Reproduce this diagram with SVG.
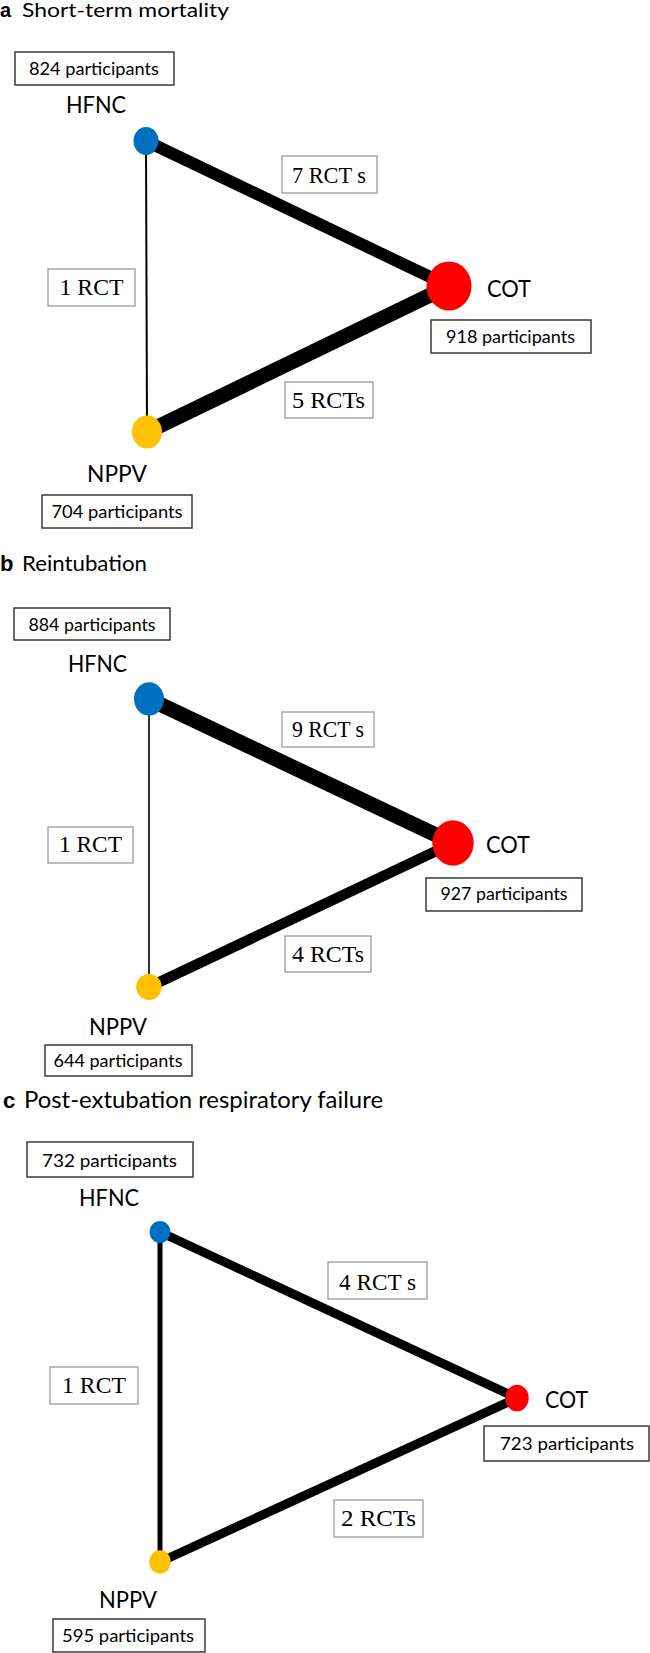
<svg xmlns="http://www.w3.org/2000/svg" width="650" height="1653" viewBox="0 0 650 1653">
<style>
.bg{fill:#fff}
.sans{font-family:Lato,"Open Sans","Liberation Sans",sans-serif;fill:#000}
.let{font-family:"Liberation Sans",Arial,sans-serif;font-weight:bold;fill:#000}
.title{font-size:19px}
.lab{font-size:23px}
.part{font-size:17px}
.ser{font-family:"Liberation Serif","Times New Roman",serif;font-size:23px;fill:#000}
.pbox{fill:#fff;stroke:#3a3a3a;stroke-width:1.5}
.ebox{fill:#fff;stroke:#9a9a9a;stroke-width:1.3}
.edge{stroke:#000;fill:none;stroke-linecap:butt}
.hfnc{fill:#0070C0}
.nppv{fill:#FFC000}
.cot{fill:#FF0000}
</style>
<rect class="bg" x="0" y="0" width="650" height="1653"/>

<!-- Panel a -->
<g id="panel-a">
  <g id="a-title">
    <text class="let" x="0" y="17" font-size="20">a</text>
    <text class="sans" x="22" y="17" font-size="18.5" textLength="207" lengthAdjust="spacingAndGlyphs">Short-term mortality</text>
  </g>
  <g id="a-connectors">
    <line class="edge" x1="146" y1="141" x2="147" y2="432" stroke-width="2"/>
    <line class="edge" x1="146" y1="141" x2="449" y2="286" stroke-width="12"/>
    <line class="edge" x1="147" y1="432" x2="449" y2="286" stroke-width="15"/>
    <rect class="ebox" x="48" y="269" width="87" height="37"/>
    <text class="ser" x="91.5" y="295" text-anchor="middle" textLength="64" lengthAdjust="spacingAndGlyphs">1 RCT</text>
    <rect class="ebox" x="282" y="156" width="95" height="37"/>
    <text class="ser" x="329" y="183" text-anchor="middle" textLength="74" lengthAdjust="spacingAndGlyphs">7 RCT s</text>
    <rect class="ebox" x="285" y="382" width="88" height="36"/>
    <text class="ser" x="328.5" y="408" text-anchor="middle" textLength="73" lengthAdjust="spacingAndGlyphs">5 RCTs</text>
  </g>
  <g id="a-HFNC">
    <rect class="pbox" x="15" y="52" width="159" height="33"/>
    <text class="sans part" x="94" y="75" text-anchor="middle" textLength="130" lengthAdjust="spacingAndGlyphs">824 participants</text>
    <text class="sans lab" x="66" y="113" textLength="60" lengthAdjust="spacingAndGlyphs">HFNC</text>
    <ellipse class="hfnc" cx="146" cy="141" rx="12.5" ry="14"/>
  </g>
  <g id="a-NPPV">
    <ellipse class="nppv" cx="147" cy="432" rx="15" ry="16.5"/>
    <text class="sans lab" x="87" y="482" textLength="60" lengthAdjust="spacingAndGlyphs">NPPV</text>
    <rect class="pbox" x="42" y="495" width="150" height="33"/>
    <text class="sans part" x="117" y="518" text-anchor="middle" textLength="131" lengthAdjust="spacingAndGlyphs">704 participants</text>
  </g>
  <g id="a-COT">
    <ellipse class="cot" cx="449" cy="286" rx="22.5" ry="24.5"/>
    <text class="sans lab" x="487" y="297" textLength="44" lengthAdjust="spacingAndGlyphs">COT</text>
    <rect class="pbox" x="431" y="320" width="160" height="33"/>
    <text class="sans part" x="510.5" y="343" text-anchor="middle" textLength="129" lengthAdjust="spacingAndGlyphs">918 participants</text>
  </g>
</g>

<!-- Panel b -->
<g id="panel-b">
  <g id="b-title">
    <text class="let" x="0" y="571" font-size="22">b</text>
    <text class="sans" x="22" y="571" font-size="21" textLength="125" lengthAdjust="spacingAndGlyphs">Reintubation</text>
  </g>
  <g id="b-connectors">
    <line class="edge" x1="149" y1="699" x2="149" y2="987" stroke-width="1.6"/>
    <line class="edge" x1="149" y1="699" x2="453" y2="843" stroke-width="15"/>
    <line class="edge" x1="149" y1="987" x2="453" y2="843" stroke-width="10.5"/>
    <rect class="ebox" x="48" y="827" width="85" height="36"/>
    <text class="ser" x="90.5" y="852" text-anchor="middle" textLength="63" lengthAdjust="spacingAndGlyphs">1 RCT</text>
    <rect class="ebox" x="282" y="712" width="92" height="35"/>
    <text class="ser" x="328" y="737" text-anchor="middle" textLength="72" lengthAdjust="spacingAndGlyphs">9 RCT s</text>
    <rect class="ebox" x="285" y="936" width="86" height="36"/>
    <text class="ser" x="328" y="962" text-anchor="middle" textLength="72" lengthAdjust="spacingAndGlyphs">4 RCTs</text>
  </g>
  <g id="b-HFNC">
    <rect class="pbox" x="14" y="608" width="156" height="32"/>
    <text class="sans part" x="92" y="631" text-anchor="middle" textLength="127" lengthAdjust="spacingAndGlyphs">884 participants</text>
    <text class="sans lab" x="68" y="672" textLength="59" lengthAdjust="spacingAndGlyphs">HFNC</text>
    <ellipse class="hfnc" cx="149" cy="699" rx="15" ry="16.7"/>
  </g>
  <g id="b-NPPV">
    <ellipse class="nppv" cx="149" cy="987" rx="12.7" ry="13"/>
    <text class="sans lab" x="89" y="1035" textLength="58" lengthAdjust="spacingAndGlyphs">NPPV</text>
    <rect class="pbox" x="45" y="1045" width="147" height="31"/>
    <text class="sans part" x="118" y="1067" text-anchor="middle" textLength="129" lengthAdjust="spacingAndGlyphs">644 participants</text>
  </g>
  <g id="b-COT">
    <ellipse class="cot" cx="453" cy="843" rx="20.7" ry="22.7"/>
    <text class="sans lab" x="486" y="853" textLength="44" lengthAdjust="spacingAndGlyphs">COT</text>
    <rect class="pbox" x="426" y="878" width="156" height="33"/>
    <text class="sans part" x="504" y="900" text-anchor="middle" textLength="127" lengthAdjust="spacingAndGlyphs">927 participants</text>
  </g>
</g>

<!-- Panel c -->
<g id="panel-c">
  <g id="c-title">
    <text class="let" x="3" y="1108" font-size="22">c</text>
    <text class="sans" x="24" y="1108" font-size="22.5" textLength="359" lengthAdjust="spacingAndGlyphs">Post-extubation respiratory failure</text>
  </g>
  <g id="c-connectors">
    <line class="edge" x1="160" y1="1232" x2="160" y2="1562" stroke-width="5"/>
    <line class="edge" x1="160" y1="1232" x2="517" y2="1398" stroke-width="9"/>
    <line class="edge" x1="160" y1="1562" x2="517" y2="1398" stroke-width="9"/>
    <rect class="ebox" x="50" y="1367" width="88" height="37"/>
    <text class="ser" x="94" y="1393" text-anchor="middle" textLength="64" lengthAdjust="spacingAndGlyphs">1 RCT</text>
    <rect class="ebox" x="328" y="1262" width="99" height="37"/>
    <text class="ser" x="377.5" y="1290" text-anchor="middle" textLength="77" lengthAdjust="spacingAndGlyphs">4 RCT s</text>
    <rect class="ebox" x="334" y="1500" width="89" height="37"/>
    <text class="ser" x="378.5" y="1526" text-anchor="middle" textLength="75" lengthAdjust="spacingAndGlyphs">2 RCTs</text>
  </g>
  <g id="c-HFNC">
    <rect class="pbox" x="27" y="1142" width="166" height="35"/>
    <text class="sans part" x="109.5" y="1167" text-anchor="middle" textLength="135" lengthAdjust="spacingAndGlyphs">732 participants</text>
    <text class="sans lab" x="79" y="1206" textLength="60" lengthAdjust="spacingAndGlyphs">HFNC</text>
    <ellipse class="hfnc" cx="160" cy="1232" rx="10.5" ry="11"/>
  </g>
  <g id="c-NPPV">
    <ellipse class="nppv" cx="160" cy="1562" rx="10.7" ry="11.7"/>
    <text class="sans lab" x="99" y="1608" textLength="58" lengthAdjust="spacingAndGlyphs">NPPV</text>
    <rect class="pbox" x="53" y="1619" width="152" height="33"/>
    <text class="sans part" x="128" y="1642" text-anchor="middle" textLength="132" lengthAdjust="spacingAndGlyphs">595 participants</text>
  </g>
  <g id="c-COT">
    <ellipse class="cot" cx="517" cy="1398" rx="11.7" ry="13.3"/>
    <text class="sans lab" x="545" y="1408" textLength="43" lengthAdjust="spacingAndGlyphs">COT</text>
    <rect class="pbox" x="484" y="1426" width="165" height="35"/>
    <text class="sans part" x="567" y="1450" text-anchor="middle" textLength="134" lengthAdjust="spacingAndGlyphs">723 participants</text>
  </g>
</g>
</svg>
